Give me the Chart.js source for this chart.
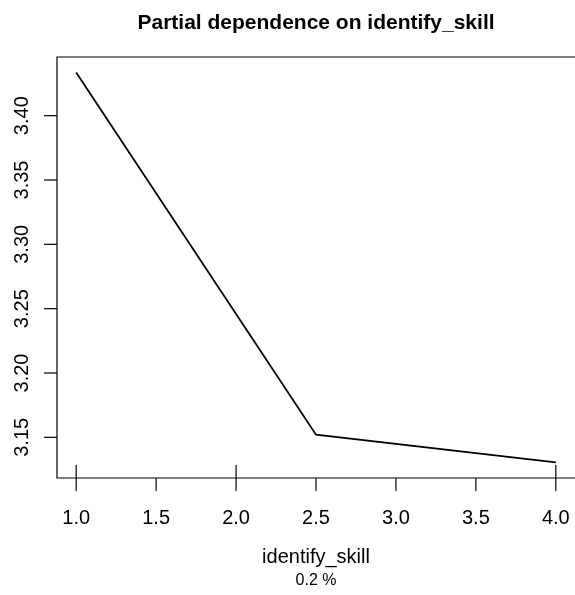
<!DOCTYPE html>
<html>
<head>
<meta charset="utf-8">
<script src="https://cdn.jsdelivr.net/npm/chart.js@4/dist/chart.umd.min.js"></script>
<style>
  html, body { margin: 0; padding: 0; background: #fff; }
  #wrap { width: 575px; height: 595px; }
</style>
</head>
<body>
<div id="wrap"><canvas id="pd_chart" width="575" height="595"></canvas></div>
<script>
// データ
const xValues = [1.0, 2.5, 4.0];
const yValues = [3.4335, 3.1521, 3.1305];
// 軸の目盛り
const xTicks = [1.0, 1.5, 2.0, 2.5, 3.0, 3.5, 4.0];
const yTicks = [3.15, 3.20, 3.25, 3.30, 3.35, 3.40];
// ラグ(データ分布)
const rugValues = [1, 2, 4];

const titleText = 'Partial dependence on identify_skill';
const xLabel = 'identify_skill';
const subLabel = '0.2 %';

const FONT = '"Liberation Sans", Arial, Helvetica, sans-serif';

// R風の枠・目盛り・文字を描くプラグイン
const rAxesPlugin = {
    id: 'rAxes',
    afterDraw(chart) {
        const ctx = chart.ctx;
        const area = chart.chartArea;
        const xs = chart.scales.x;
        const ys = chart.scales.y;
        ctx.save();
        ctx.strokeStyle = '#000';
        ctx.fillStyle = '#000';
        ctx.lineWidth = 1.2;

        // 枠
        ctx.beginPath();
        ctx.moveTo(area.right, area.top);
        ctx.lineTo(area.left, area.top);
        ctx.lineTo(area.left, area.bottom);
        ctx.lineTo(area.right, area.bottom);
        ctx.stroke();

        // x軸の目盛り
        ctx.font = '20px ' + FONT;
        ctx.textAlign = 'center';
        ctx.textBaseline = 'alphabetic';
        xTicks.forEach(function(v) {
            const px = xs.getPixelForValue(v);
            ctx.beginPath();
            ctx.moveTo(px, area.bottom);
            ctx.lineTo(px, area.bottom + 13);
            ctx.stroke();
            ctx.fillText(v.toFixed(1), px, 524);
        });

        // ラグ
        rugValues.forEach(function(v) {
            const px = xs.getPixelForValue(v);
            ctx.beginPath();
            ctx.moveTo(px, area.bottom);
            ctx.lineTo(px, area.bottom - 13);
            ctx.stroke();
        });

        // y軸の目盛り(縦書き)
        yTicks.forEach(function(v) {
            const py = ys.getPixelForValue(v);
            ctx.beginPath();
            ctx.moveTo(area.left, py);
            ctx.lineTo(area.left - 13, py);
            ctx.stroke();
            ctx.save();
            ctx.translate(27.5, py);
            ctx.rotate(-Math.PI / 2);
            ctx.fillText(v.toFixed(2), 0, 0);
            ctx.restore();
        });

        // タイトル・軸ラベル
        const cx = (area.left + area.right) / 2;
        ctx.font = 'bold 21px ' + FONT;
        ctx.fillText(titleText, cx, 28.5);
        ctx.font = '20px ' + FONT;
        ctx.fillText(xLabel, cx, 563);
        ctx.font = '16px ' + FONT;
        ctx.fillText(subLabel, cx, 585);
        ctx.restore();
    }
};

const points = xValues.map(function(x, i) { return { x: x, y: yValues[i] }; });

new Chart(document.getElementById('pd_chart'), {
    type: 'line',
    data: {
        datasets: [{
            data: points,
            borderColor: '#000',
            borderWidth: 1.8,
            pointRadius: 0,
            tension: 0,
            fill: false
        }]
    },
    options: {
        responsive: false,
        animation: false,
        layout: {
            padding: { left: 57, top: 57, right: -2, bottom: 117 }
        },
        scales: {
            x: { type: 'linear', min: 0.88, max: 4.12, display: false },
            y: { type: 'linear', min: 3.1184, max: 3.4456, display: false }
        },
        plugins: {
            legend: { display: false },
            tooltip: { enabled: false }
        }
    },
    plugins: [rAxesPlugin]
});
</script>
</body>
</html>
